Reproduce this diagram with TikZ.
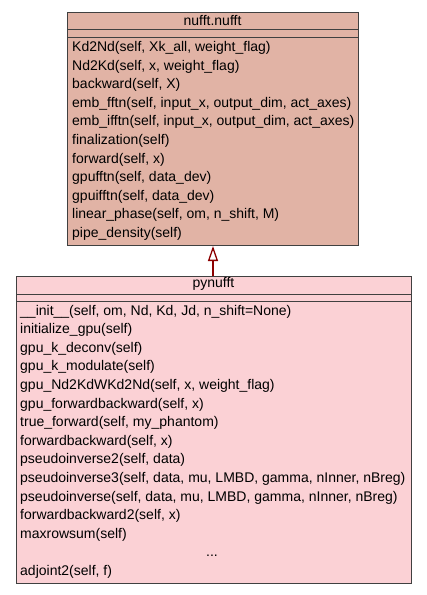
\documentclass[tikz,border=0pt]{standalone}
\usepackage{fontspec}
\setmainfont{Liberation Sans}
\usetikzlibrary{arrows.meta}
\definecolor{baseFill}{RGB}{225,179,165}
\definecolor{derivFill}{RGB}{251,209,213}
\definecolor{frameCol}{RGB}{64,64,64}
\definecolor{inheritCol}{RGB}{140,0,0}
\tikzset{
  classbox/.style={draw=frameCol, line width=1pt, rectangle, inner sep=0pt},
  sepline/.style={draw=frameCol, line width=1pt},
  member/.style={anchor=base west, inner sep=0pt, font=\fontsize{14}{16}\selectfont},
  title/.style={anchor=base, inner sep=0pt, font=\fontsize{14}{16}\selectfont},
  inherit/.style={draw=inheritCol, line width=2pt, -{Triangle[open, length=15pt, width=10pt, line width=1.3pt]}}
}
\begin{document}
\begin{tikzpicture}[x=1pt, y=-1pt]
\useasboundingbox (0,0) rectangle (427,595);

% base class: nufft.nufft
\node[classbox, fill=baseFill, minimum width=291pt, minimum height=233pt, anchor=north west] (base) at (67,12) {};
\draw[sepline] (67,29) -- (358,29);
\draw[sepline] (67,37) -- (358,37);
\node[title] (basetitle) at (212.5,25) {nufft.nufft};
\foreach \i/\txt in {0/{Kd2Nd(self, Xk\_all, weight\_flag)},
                     1/{Nd2Kd(self, x, weight\_flag)},
                     2/{backward(self, X)},
                     3/{emb\_fftn(self, input\_x, output\_dim, act\_axes)},
                     4/{emb\_ifftn(self, input\_x, output\_dim, act\_axes)},
                     5/{finalization(self)},
                     6/{forward(self, x)},
                     7/{gpufftn(self, data\_dev)},
                     8/{gpuifftn(self, data\_dev)},
                     9/{linear\_phase(self, om, n\_shift, M)},
                     10/{pipe\_density(self)}}
  \node[member] (bm\i) at (72,51.5+18.6*\i) {\txt};

% derived class: pynufft
\node[classbox, fill=derivFill, minimum width=395pt, minimum height=307pt, anchor=north west] (deriv) at (16,276) {};
\draw[sepline] (16,294) -- (411,294);
\draw[sepline] (16,301) -- (411,301);
\node[title] (derivtitle) at (213.5,287) {pynufft};
\foreach \i/\txt in {0/{\_\_init\_\_(self, om, Nd, Kd, Jd, n\_shift=None)},
                     1/{initialize\_gpu(self)},
                     2/{gpu\_k\_deconv(self)},
                     3/{gpu\_k\_modulate(self)},
                     4/{gpu\_Nd2KdWKd2Nd(self, x, weight\_flag)},
                     5/{gpu\_forwardbackward(self, x)},
                     6/{true\_forward(self, my\_phantom)},
                     7/{forwardbackward(self, x)},
                     8/{pseudoinverse2(self, data)},
                     9/{pseudoinverse3(self, data, mu, LMBD, gamma, nInner, nBreg)},
                     10/{pseudoinverse(self, data, mu, LMBD, gamma, nInner, nBreg)},
                     11/{forwardbackward2(self, x)},
                     12/{maxrowsum(self)},
                     14/{adjoint2(self, f)}}
  \node[member] (dm\i) at (20,315+18.6*\i) {\txt};
\node[title] (dmore) at (212,315+18.6*13) {...};

% inheritance
\draw[inherit] (deriv.north -| 213,0) -- (base.south -| 213,0);
\end{tikzpicture}
\end{document}
